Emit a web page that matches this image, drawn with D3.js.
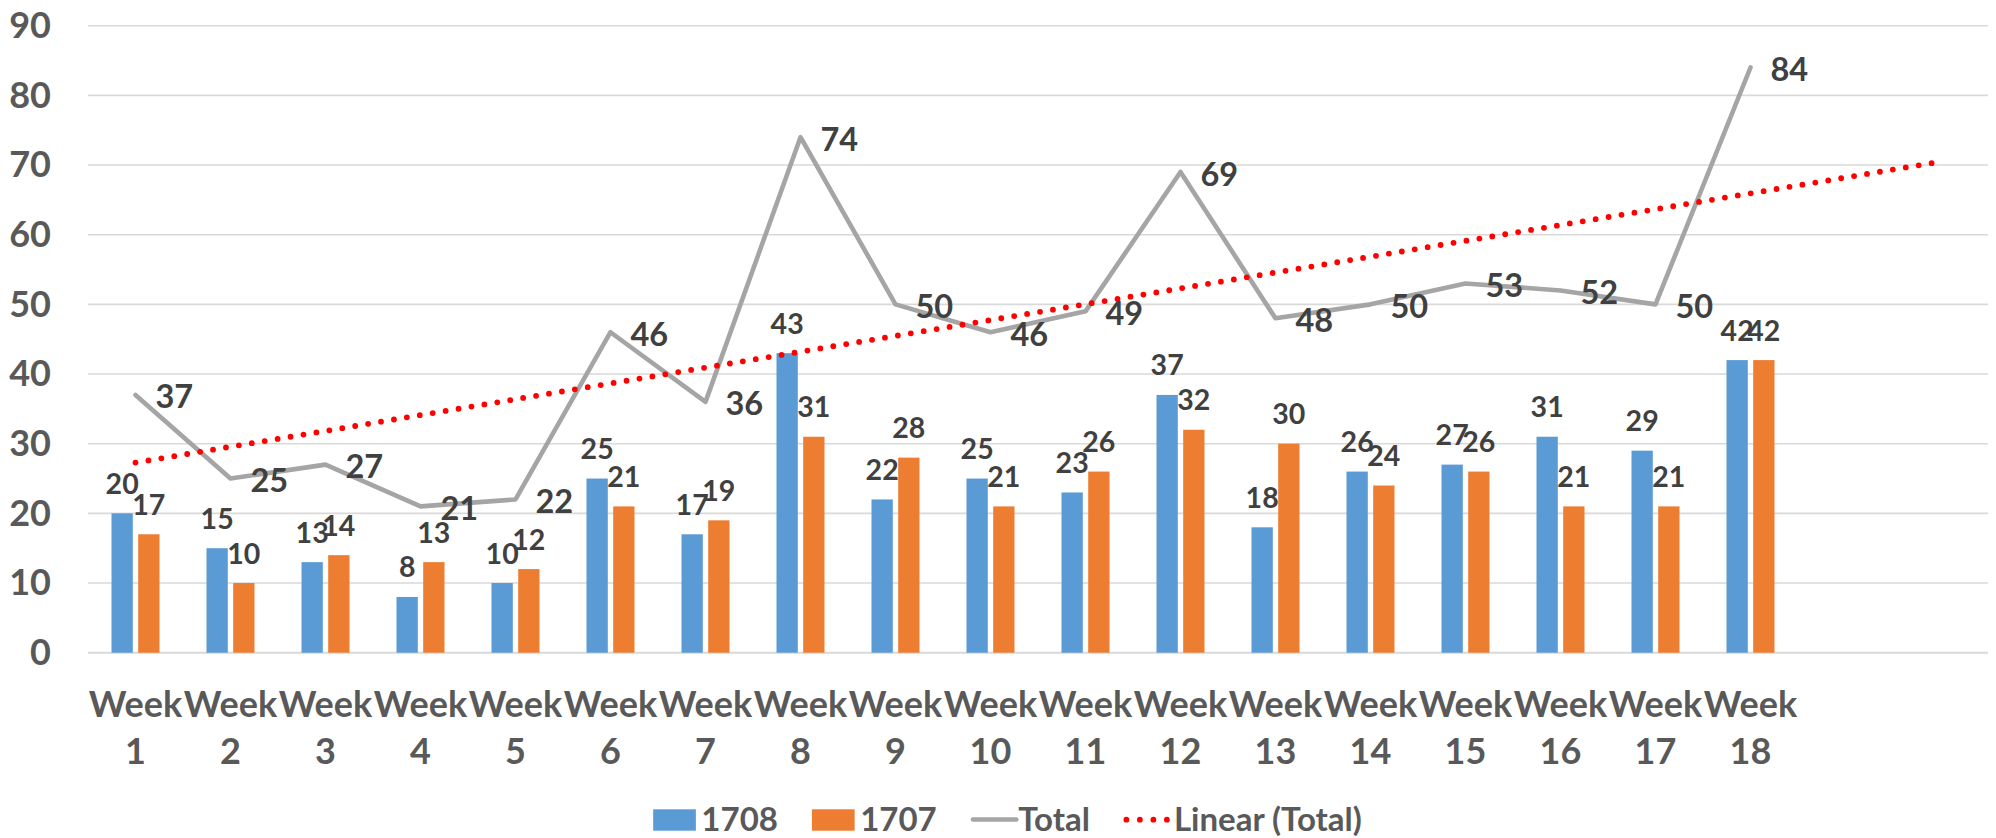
<!DOCTYPE html>
<html>
<head>
<meta charset="utf-8">
<script src="https://cdn.jsdelivr.net/npm/d3@7"></script>
<style>
  html, body { margin: 0; padding: 0; background: #ffffff; }
  svg { display: block; font-family: Lato, "Open Sans", "Noto Sans", sans-serif; font-weight: 700; }
</style>
</head>
<body>
<div id="chart"></div>
<script>
// ---- data ----
const categories = ["Week 1","Week 2","Week 3","Week 4","Week 5","Week 6","Week 7","Week 8","Week 9",
                    "Week 10","Week 11","Week 12","Week 13","Week 14","Week 15","Week 16","Week 17","Week 18"];
const series1708 = [20, 15, 13, 8, 10, 25, 17, 43, 22, 25, 23, 37, 18, 26, 27, 31, 29, 42];
const series1707 = [17, 10, 14, 13, 12, 21, 19, 31, 28, 21, 26, 32, 30, 24, 26, 21, 21, 42];
const seriesTotal = [37, 25, 27, 21, 22, 46, 36, 74, 50, 46, 49, 69, 48, 50, 53, 52, 50, 84];
const yTicks = [0, 10, 20, 30, 40, 50, 60, 70, 80, 90];
const legendLabels = ["1708", "1707", "Total", "Linear (Total)"];
const trendForward = 2; // trendline forecast periods

// ---- layout ----
const W = 1996, H = 838;
const plotLeft = 88, plotRight = 1988, plotTop = 25.7, plotBottom = 652.7;
const colors = { a: "#5B9BD5", b: "#ED7D31", total: "#A5A5A5", trend: "#FF0000" };

const svg = d3.select("#chart").append("svg").attr("width", W).attr("height", H);

const nSlots = categories.length + trendForward;
const x = d3.scaleBand().domain(d3.range(nSlots)).range([plotLeft, plotRight]).padding(0);
const cx = i => x(i) + x.bandwidth() / 2;
const y = d3.scaleLinear().domain([0, 90]).range([plotBottom, plotTop]);

// gridlines
svg.append("g").selectAll("line").data(yTicks.filter(d => d > 0)).join("line")
  .attr("x1", plotLeft).attr("x2", plotRight)
  .attr("y1", d => y(d)).attr("y2", d => y(d))
  .attr("stroke", "#D9D9D9").attr("stroke-width", 1.6);

// y axis labels
const yAxis = d3.axisLeft(y).tickValues(yTicks).tickSize(0).tickPadding(37);
const gy = svg.append("g").attr("transform", `translate(${plotLeft},0)`).call(yAxis);
gy.select(".domain").remove();
gy.selectAll("text").attr("font-family", "Lato, sans-serif").attr("font-weight", 700)
  .attr("font-size", 36).attr("fill", "#595959").attr("dy", "0.33em");

// x axis baseline
svg.append("line").attr("x1", plotLeft).attr("x2", plotRight).attr("y1", y(0)).attr("y2", y(0))
  .attr("stroke", "#D9D9D9").attr("stroke-width", 2);

// x labels (two lines)
const xl = svg.append("g").selectAll("text").data(categories).join("text")
  .attr("text-anchor", "middle").attr("font-size", 36).attr("fill", "#595959");
xl.each(function(d, i) {
  const parts = d.split(" ");
  const t = d3.select(this);
  t.append("tspan").attr("x", cx(i)).attr("y", 716.7).text(parts[0]);
  t.append("tspan").attr("x", cx(i)).attr("y", 764).text(parts[1]);
});

// bars
const bw = 21.3, gap = 5.4;
svg.append("g").selectAll("rect").data(series1708).join("rect")
  .attr("x", (d, i) => cx(i) - gap / 2 - bw).attr("width", bw)
  .attr("y", d => y(d)).attr("height", d => y(0) - y(d)).attr("fill", colors.a);
svg.append("g").selectAll("rect").data(series1707).join("rect")
  .attr("x", (d, i) => cx(i) + gap / 2).attr("width", bw)
  .attr("y", d => y(d)).attr("height", d => y(0) - y(d)).attr("fill", colors.b);

// trendline (least squares of Total)
const nPts = seriesTotal.length;
const xs = d3.range(1, nPts + 1);
const mx = d3.mean(xs), my = d3.mean(seriesTotal);
const sxy = d3.sum(xs, (v, i) => (v - mx) * (seriesTotal[i] - my));
const sxx = d3.sum(xs, v => (v - mx) * (v - mx));
const slope = sxy / sxx, intercept = my - slope * mx;
const trendPts = [0, nPts - 1 + trendForward].map(i => [cx(i), y(intercept + slope * (i + 1))]);

// total line
svg.append("path").datum(seriesTotal)
  .attr("d", d3.line().x((d, i) => cx(i)).y(d => y(d)))
  .attr("fill", "none").attr("stroke", colors.total).attr("stroke-width", 4.6)
  .attr("stroke-linejoin", "round").attr("stroke-linecap", "round");

svg.append("path").datum(trendPts)
  .attr("d", d3.line())
  .attr("fill", "none").attr("stroke", colors.trend).attr("stroke-width", 5.8)
  .attr("stroke-linecap", "round").attr("stroke-dasharray", "0 13.1");

// bar labels
svg.append("g").selectAll("text").data(series1708).join("text")
  .attr("x", (d, i) => cx(i) - gap / 2 - bw / 2).attr("y", d => y(d) - 19.5)
  .attr("text-anchor", "middle").attr("font-size", 28.5).attr("fill", "#404040").text(d => d);
svg.append("g").selectAll("text").data(series1707).join("text")
  .attr("x", (d, i) => cx(i) + gap / 2 + bw / 2).attr("y", d => y(d) - 19.5)
  .attr("text-anchor", "middle").attr("font-size", 28.5).attr("fill", "#404040").text(d => d);

// total labels (right of point)
svg.append("g").selectAll("text").data(seriesTotal).join("text")
  .attr("x", (d, i) => cx(i) + 20).attr("y", d => y(d) + 13.5)
  .attr("text-anchor", "start").attr("font-size", 32.5).attr("fill", "#404040").text(d => d);

// legend
const lg = svg.append("g");
const legFont = 33;
let cur = 0;
legendLabels.forEach((lab, k) => {
  const g = lg.append("g");
  if (k < 2) {
    g.append("rect").attr("x", cur).attr("y", 809.3).attr("width", 42.7).attr("height", 21.4)
      .attr("fill", k === 0 ? colors.a : colors.b);
    cur += 42.7 + 5.5;
  } else if (k === 2) {
    g.append("line").attr("x1", cur + 2.3).attr("x2", cur + 45.6).attr("y1", 819.5).attr("y2", 819.5)
      .attr("stroke", colors.total).attr("stroke-width", 4.6).attr("stroke-linecap", "round");
    cur += 47.5;
  } else {
    g.append("line").attr("x1", cur + 2.5).attr("x2", cur + 45).attr("y1", 819.7).attr("y2", 819.7)
      .attr("stroke", colors.trend).attr("stroke-width", 5.8).attr("stroke-linecap", "round")
      .attr("stroke-dasharray", "0 13.5");
    cur += 50;
  }
  const t = g.append("text").attr("x", cur).attr("y", 830.7).attr("font-size", legFont)
    .attr("fill", "#595959").text(lab);
  cur += t.node().getComputedTextLength() + 34;
});
const totalW = cur - 34;
lg.attr("transform", `translate(${1007.5 - totalW / 2},0)`);
</script>
</body>
</html>
